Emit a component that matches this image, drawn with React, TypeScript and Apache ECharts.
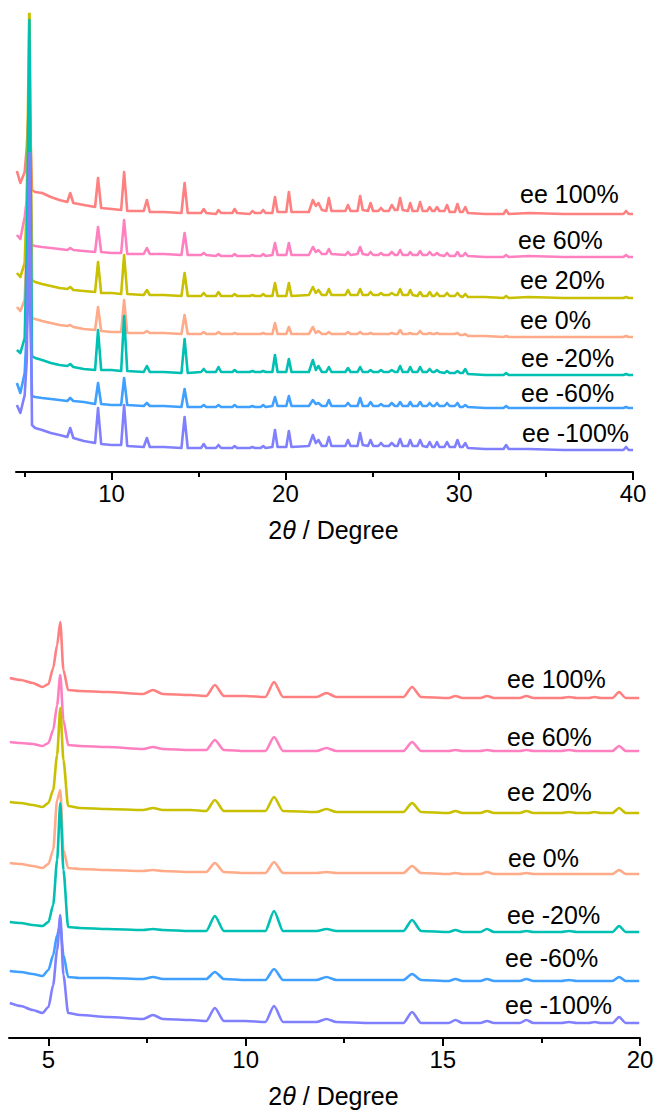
import React, { useEffect, useRef } from 'react';
import * as echarts from 'echarts';

const FONT = '"Liberation Sans", Arial, Helvetica, sans-serif';

const sampleLabels = ['ee 100%', 'ee 60%', 'ee 20%', 'ee 0%', 'ee -20%', 'ee -60%', 'ee -100%'];
const sampleColors = ['#FF8080', '#FF80C0', '#C8C000', '#FFAA88', '#00BFB3', '#40A0FF', '#8080FF'];

// ---------- Top panel (2θ 4.5–40) ----------
const topTheta = [
  4.55, 4.75, 5.0, 5.12, 5.27, 5.42, 5.6, 6.0, 6.5, 7.0,
  7.45, 7.62, 7.8, 8.4, 9.05, 9.22, 9.4, 10.0, 10.55, 10.72,
  10.9, 11.85, 12.03, 12.2, 13.0, 14.02, 14.2, 14.38, 15.15, 15.3,
  15.45, 16.0, 16.15, 16.3, 16.95, 17.08, 17.22, 17.95, 18.1, 18.25,
  18.58, 18.72, 18.86, 19.25, 19.4, 19.55, 20.05, 20.2, 20.35, 21.35,
  21.58, 21.75, 21.9, 22.1, 22.35, 22.5, 22.65, 23.45, 23.6, 23.75,
  24.15, 24.3, 24.45, 24.75, 24.9, 25.05, 25.35, 25.5, 25.65, 25.95,
  26.12, 26.3, 26.45, 26.6, 26.75, 27.05, 27.18, 27.32, 27.6, 27.75,
  27.9, 28.15, 28.3, 28.45, 28.58, 28.72, 28.86, 29.15, 29.3, 29.45,
  29.75, 29.9, 30.05, 30.2, 30.35, 30.5, 31.5, 32.55, 32.7, 32.85,
  34.0, 36.0, 38.0, 39.45, 39.6, 39.75, 40.0,
];
// vertical stacking offset of each pattern (same units as intensity)
const topOffsets = [258, 215, 174, 135, 97, 64, 22];

const topEE100 = [
  43, 31, 42, 67, 121, 24, 22, 21, 17, 14,
  12, 21, 11, 9, 7, 36, 6, 5, 4, 42,
  3, 3, 14, 2, 2, 1, 31, 1, 1, 5,
  1, 0, 4, 1, 1, 5, 1, 0, 3, 1,
  1, 4, 1, 1, 17, 2, 2, 22, 2, 2,
  14, 8, 11, 4, 3, 16, 3, 3, 9, 3,
  3, 18, 4, 3, 11, 3, 3, 6, 3, 3,
  9, 4, 4, 16, 4, 3, 11, 3, 3, 12,
  3, 3, 7, 3, 3, 7, 3, 3, 9, 2,
  2, 10, 2, 2, 7, 1, 0, 0, 4, 0,
  1, 0, 0, 0, 3, 0, 0,
];
const topEE60 = [
  22, 18, 40, 57, 137, 12, 11, 10, 9, 8,
  7, 9, 7, 6, 5, 30, 5, 4, 4, 37,
  3, 3, 9, 3, 3, 2, 24, 2, 2, 4,
  2, 1, 3, 1, 1, 3, 1, 1, 2, 1,
  1, 3, 1, 2, 14, 2, 2, 14, 2, 2,
  10, 5, 7, 3, 3, 8, 3, 2, 5, 2,
  3, 10, 3, 2, 5, 2, 2, 4, 2, 2,
  5, 2, 2, 7, 2, 2, 5, 2, 2, 6,
  2, 2, 5, 2, 2, 4, 2, 1, 4, 1,
  1, 5, 1, 1, 4, 1, 0, 0, 2, 0,
  1, 0, 0, 0, 2, 0, 0,
];
const topEE20 = [
  25, 21, 35, 98, 300, 18, 16, 14, 12, 10,
  9, 11, 8, 7, 6, 36, 5, 5, 4, 43,
  4, 3, 8, 3, 3, 2, 25, 2, 2, 5,
  2, 2, 6, 2, 2, 4, 2, 2, 3, 2,
  2, 4, 2, 2, 15, 2, 2, 15, 2, 3,
  11, 5, 8, 3, 3, 9, 3, 3, 8, 3,
  3, 9, 3, 3, 6, 3, 3, 5, 3, 3,
  5, 3, 3, 9, 3, 3, 8, 3, 2, 6,
  2, 2, 6, 2, 2, 5, 2, 2, 5, 2,
  2, 5, 2, 1, 4, 1, 1, 0, 2, 0,
  1, 0, 0, 0, 1, 0, 0,
];
const topEE0 = [
  30, 26, 37, 97, 237, 19, 18, 16, 14, 12,
  11, 12, 10, 8, 7, 30, 6, 5, 5, 37,
  4, 4, 6, 4, 4, 3, 22, 3, 3, 5,
  3, 3, 5, 3, 3, 4, 3, 3, 3, 3,
  3, 4, 3, 3, 14, 3, 3, 10, 3, 3,
  10, 4, 6, 3, 3, 5, 3, 3, 5, 3,
  3, 5, 3, 3, 4, 3, 3, 3, 3, 3,
  4, 3, 3, 7, 3, 3, 4, 3, 3, 6,
  3, 3, 4, 3, 3, 4, 3, 3, 3, 3,
  3, 4, 2, 2, 3, 1, 1, 0, 1, 0,
  0, 0, 0, 0, 1, 0, 0,
];
const topEEm20 = [
  25, 22, 37, 125, 355, 19, 17, 15, 12, 10,
  9, 11, 8, 6, 5, 45, 5, 5, 4, 59,
  4, 3, 9, 3, 3, 2, 36, 2, 3, 6,
  3, 3, 8, 3, 3, 5, 3, 3, 4, 3,
  3, 4, 3, 3, 20, 3, 3, 16, 3, 3,
  15, 5, 9, 3, 3, 8, 3, 3, 7, 3,
  3, 8, 3, 3, 5, 3, 3, 5, 3, 3,
  5, 3, 3, 9, 3, 3, 8, 3, 3, 8,
  3, 3, 6, 3, 3, 5, 3, 2, 4, 2,
  2, 4, 2, 2, 6, 1, 0, 0, 2, 0,
  0, 0, 0, 0, 1, 0, 0,
];
const topEEm60 = [
  25, 15, 35, 78, 138, 12, 11, 10, 9, 8,
  7, 10, 7, 6, 4, 25, 4, 3, 3, 30,
  3, 2, 5, 2, 2, 1, 19, 1, 1, 3,
  1, 1, 3, 1, 1, 3, 1, 1, 2, 1,
  1, 3, 1, 2, 11, 2, 2, 12, 2, 2,
  8, 4, 5, 2, 2, 8, 2, 2, 5, 2,
  2, 10, 2, 2, 6, 2, 2, 4, 2, 2,
  5, 2, 2, 6, 2, 2, 6, 2, 2, 6,
  2, 2, 5, 2, 2, 5, 2, 2, 5, 2,
  2, 5, 1, 1, 3, 1, 0, 0, 2, 0,
  0, 0, 0, 0, 1, 0, 0,
];
const topEEm100 = [
  45, 37, 55, 90, 297, 25, 22, 20, 17, 15,
  13, 22, 12, 9, 7, 42, 6, 5, 5, 45,
  4, 3, 12, 3, 3, 2, 33, 2, 2, 6,
  2, 2, 5, 2, 2, 4, 2, 2, 3, 2,
  2, 4, 2, 3, 20, 3, 3, 19, 3, 4,
  15, 7, 10, 4, 4, 13, 4, 4, 10, 4,
  4, 17, 5, 4, 10, 4, 4, 7, 4, 4,
  7, 4, 4, 11, 4, 4, 10, 4, 4, 10,
  4, 3, 8, 3, 3, 8, 3, 3, 8, 3,
  3, 10, 3, 3, 7, 2, 1, 1, 5, 1,
  1, 0, 0, 0, 3, 0, 0,
];
const topSeries = [topEE100, topEE60, topEE20, topEE0, topEEm20, topEEm60, topEEm100];

// ---------- Bottom panel (2θ 4–20) ----------
const bottomTheta = [
  4.02, 4.3, 4.6, 4.85, 5.0, 5.12, 5.22, 5.3, 5.38, 5.5,
  5.8, 6.5, 7.4, 7.65, 7.9, 8.6, 9.0, 9.22, 9.45, 10.0,
  10.5, 10.72, 10.95, 11.8, 12.05, 12.3, 13.2, 14.0, 14.22, 14.45,
  15.15, 15.32, 15.5, 15.95, 16.12, 16.3, 16.95, 17.12, 17.3, 18.0,
  18.2, 18.4, 18.7, 18.85, 19.0, 19.3, 19.47, 19.64, 19.98,
];
const bottomOffsets = [340, 287, 225, 164, 106, 57, 15];

const botEE100 = [
  20, 18, 15, 11, 14, 30, 53, 76, 28, 8,
  7, 6, 4, 8, 4, 3, 2, 13, 2, 2,
  1, 16, 1, 1, 5, 1, 1, 1, 11, 1,
  0, 2, 0, 0, 2, 0, 0, 2, 0, 0,
  1, 0, 0, 1, 0, 0, 6, 0, 0,
];
const botEE60 = [
  9, 8, 7, 5, 8, 21, 46, 76, 31, 6,
  5, 4, 2, 4, 2, 1, 1, 11, 1, 0,
  0, 14, 0, 0, 3, 0, 0, 0, 9, 0,
  0, 1, 0, 0, 1, 0, 0, 1, 0, 0,
  1, 0, 0, 0, 0, 0, 5, 0, 0,
];
const botEE20 = [
  11, 10, 8, 6, 10, 23, 58, 105, 53, 7,
  5, 4, 3, 5, 3, 3, 2, 13, 2, 2,
  2, 16, 2, 1, 4, 1, 1, 1, 10, 1,
  0, 2, 0, 0, 2, 0, 0, 2, 0, 0,
  1, 0, 0, 1, 0, 0, 5, 0, 0,
];
const botEE0 = [
  11, 10, 8, 6, 10, 24, 74, 84, 24, 6,
  5, 4, 3, 4, 3, 2, 2, 11, 2, 1,
  1, 12, 1, 1, 2, 1, 1, 1, 8, 1,
  0, 1, 0, 0, 2, 0, 0, 1, 0, 0,
  0, 0, 0, 0, 0, 0, 4, 0, 0,
];
const botEEm20 = [
  10, 9, 7, 6, 10, 27, 72, 129, 62, 5,
  4, 3, 2, 3, 2, 1, 1, 16, 1, 1,
  1, 21, 1, 1, 3, 1, 1, 1, 12, 1,
  0, 2, 0, 0, 3, 0, 0, 1, 0, 0,
  1, 0, 0, 0, 0, 0, 6, 0, 0,
];
const botEEm60 = [
  10, 9, 7, 5, 11, 26, 46, 56, 26, 4,
  3, 3, 2, 4, 2, 2, 2, 9, 2, 1,
  1, 12, 1, 1, 4, 1, 1, 1, 7, 1,
  0, 2, 0, 0, 2, 0, 0, 2, 0, 0,
  1, 0, 0, 0, 0, 0, 4, 0, 0,
];
const botEEm100 = [
  20, 17, 13, 10, 16, 38, 73, 108, 48, 10,
  8, 6, 4, 8, 4, 3, 2, 15, 2, 2,
  1, 17, 1, 1, 4, 1, 0, 0, 11, 0,
  0, 3, 0, 0, 2, 0, 0, 3, 0, 0,
  1, 0, 0, 1, 0, 0, 6, 0, 0,
];
const bottomSeries = [botEE100, botEE60, botEE20, botEE0, botEEm20, botEEm60, botEEm100];

const topMajorTicks = [10, 20, 30, 40];
const topMinorTicks = [5, 15, 25, 35];
const bottomMajorTicks = [5, 10, 15, 20];
const bottomMinorTicks = [7.5, 12.5, 17.5];

// label placement (pixels)
const topLabelPos = [[520, 194], [518, 240], [520, 280], [520, 320], [521, 358], [521, 393], [522, 433]];
const bottomLabelPos = [[507, 679], [507, 737], [507, 792], [508, 858], [507, 915], [505, 958], [505, 1005]];

function majorAxis(gridIndex: number, min: number, max: number, ticks: number[]) {
  return {
    type: 'value', gridIndex, min, max, position: 'bottom',
    axisLine: { show: true, onZero: false, lineStyle: { color: '#000', width: 2 } },
    axisTick: { show: true, customValues: ticks, length: 8, lineStyle: { color: '#000', width: 2 } },
    axisLabel: { show: true, customValues: ticks, fontSize: 24, color: '#000', fontFamily: FONT, margin: 9 },
    splitLine: { show: false },
    name: '2{i|θ} / Degree',
    nameLocation: 'middle',
    nameGap: 45,
    nameTextStyle: {
      fontSize: 25, color: '#000', fontFamily: FONT,
      padding: [0, 0, 0, 18],
      rich: { i: { fontStyle: 'italic', fontSize: 25, color: '#000', fontFamily: FONT } },
    },
  };
}
function minorAxis(gridIndex: number, min: number, max: number, ticks: number[]) {
  return {
    type: 'value', gridIndex, min, max, position: 'bottom',
    axisLine: { show: false, onZero: false },
    axisTick: { show: true, customValues: ticks, length: 5, lineStyle: { color: '#000', width: 2 } },
    axisLabel: { show: false },
    splitLine: { show: false },
  };
}

export default function App() {
  const ref = useRef<HTMLDivElement>(null);
  useEffect(() => {
    document.body.style.margin = '0';
    if (!ref.current) return;
    const chart = echarts.init(ref.current, undefined, { renderer: 'svg' });

    const series: any[] = [];
    topSeries.forEach((vals, s) => {
      series.push({
        type: 'line', xAxisIndex: 0, yAxisIndex: 0, symbol: 'none', clip: true,
        lineStyle: { color: sampleColors[s], width: 2.6, join: 'round' }, itemStyle: { color: sampleColors[s] },
        data: topTheta.map((t, i) => [t, topOffsets[s] + vals[i]]),
      });
    });
    bottomSeries.forEach((vals, s) => {
      series.push({
        type: 'line', xAxisIndex: 2, yAxisIndex: 1, symbol: 'none', clip: true,
        smooth: 0.25, smoothMonotone: 'x',
        lineStyle: { color: sampleColors[s], width: 2.6, join: 'round' }, itemStyle: { color: sampleColors[s] },
        data: bottomTheta.map((t, i) => [t, bottomOffsets[s] + vals[i]]),
      });
    });

    const graphic: any[] = [];
    sampleLabels.forEach((lab, s) => {
      graphic.push({
        type: 'text', x: topLabelPos[s][0], y: topLabelPos[s][1],
        style: { text: lab, fontSize: 25, fontFamily: FONT, fill: '#000', verticalAlign: 'middle', align: 'left' },
      });
      graphic.push({
        type: 'text', x: bottomLabelPos[s][0], y: bottomLabelPos[s][1],
        style: { text: lab, fontSize: 25, fontFamily: FONT, fill: '#000', verticalAlign: 'middle', align: 'left' },
      });
    });

    chart.setOption({
      animation: false,
      backgroundColor: '#ffffff',
      grid: [
        { left: 16, right: 24, top: 14, height: 458 },
        { left: 9, right: 17, top: 560, height: 478 },
      ],
      xAxis: [
        majorAxis(0, 4.5, 40, topMajorTicks),
        minorAxis(0, 4.5, 40, topMinorTicks),
        majorAxis(1, 4, 20, bottomMajorTicks),
        minorAxis(1, 4, 20, bottomMinorTicks),
      ],
      yAxis: [
        { type: 'value', gridIndex: 0, min: 0, max: 458, show: false },
        { type: 'value', gridIndex: 1, min: 0, max: 478, show: false },
      ],
      series,
      graphic,
    });
    return () => chart.dispose();
  }, []);
  return <div ref={ref} style={{ width: 657, height: 1113 }} />;
}
